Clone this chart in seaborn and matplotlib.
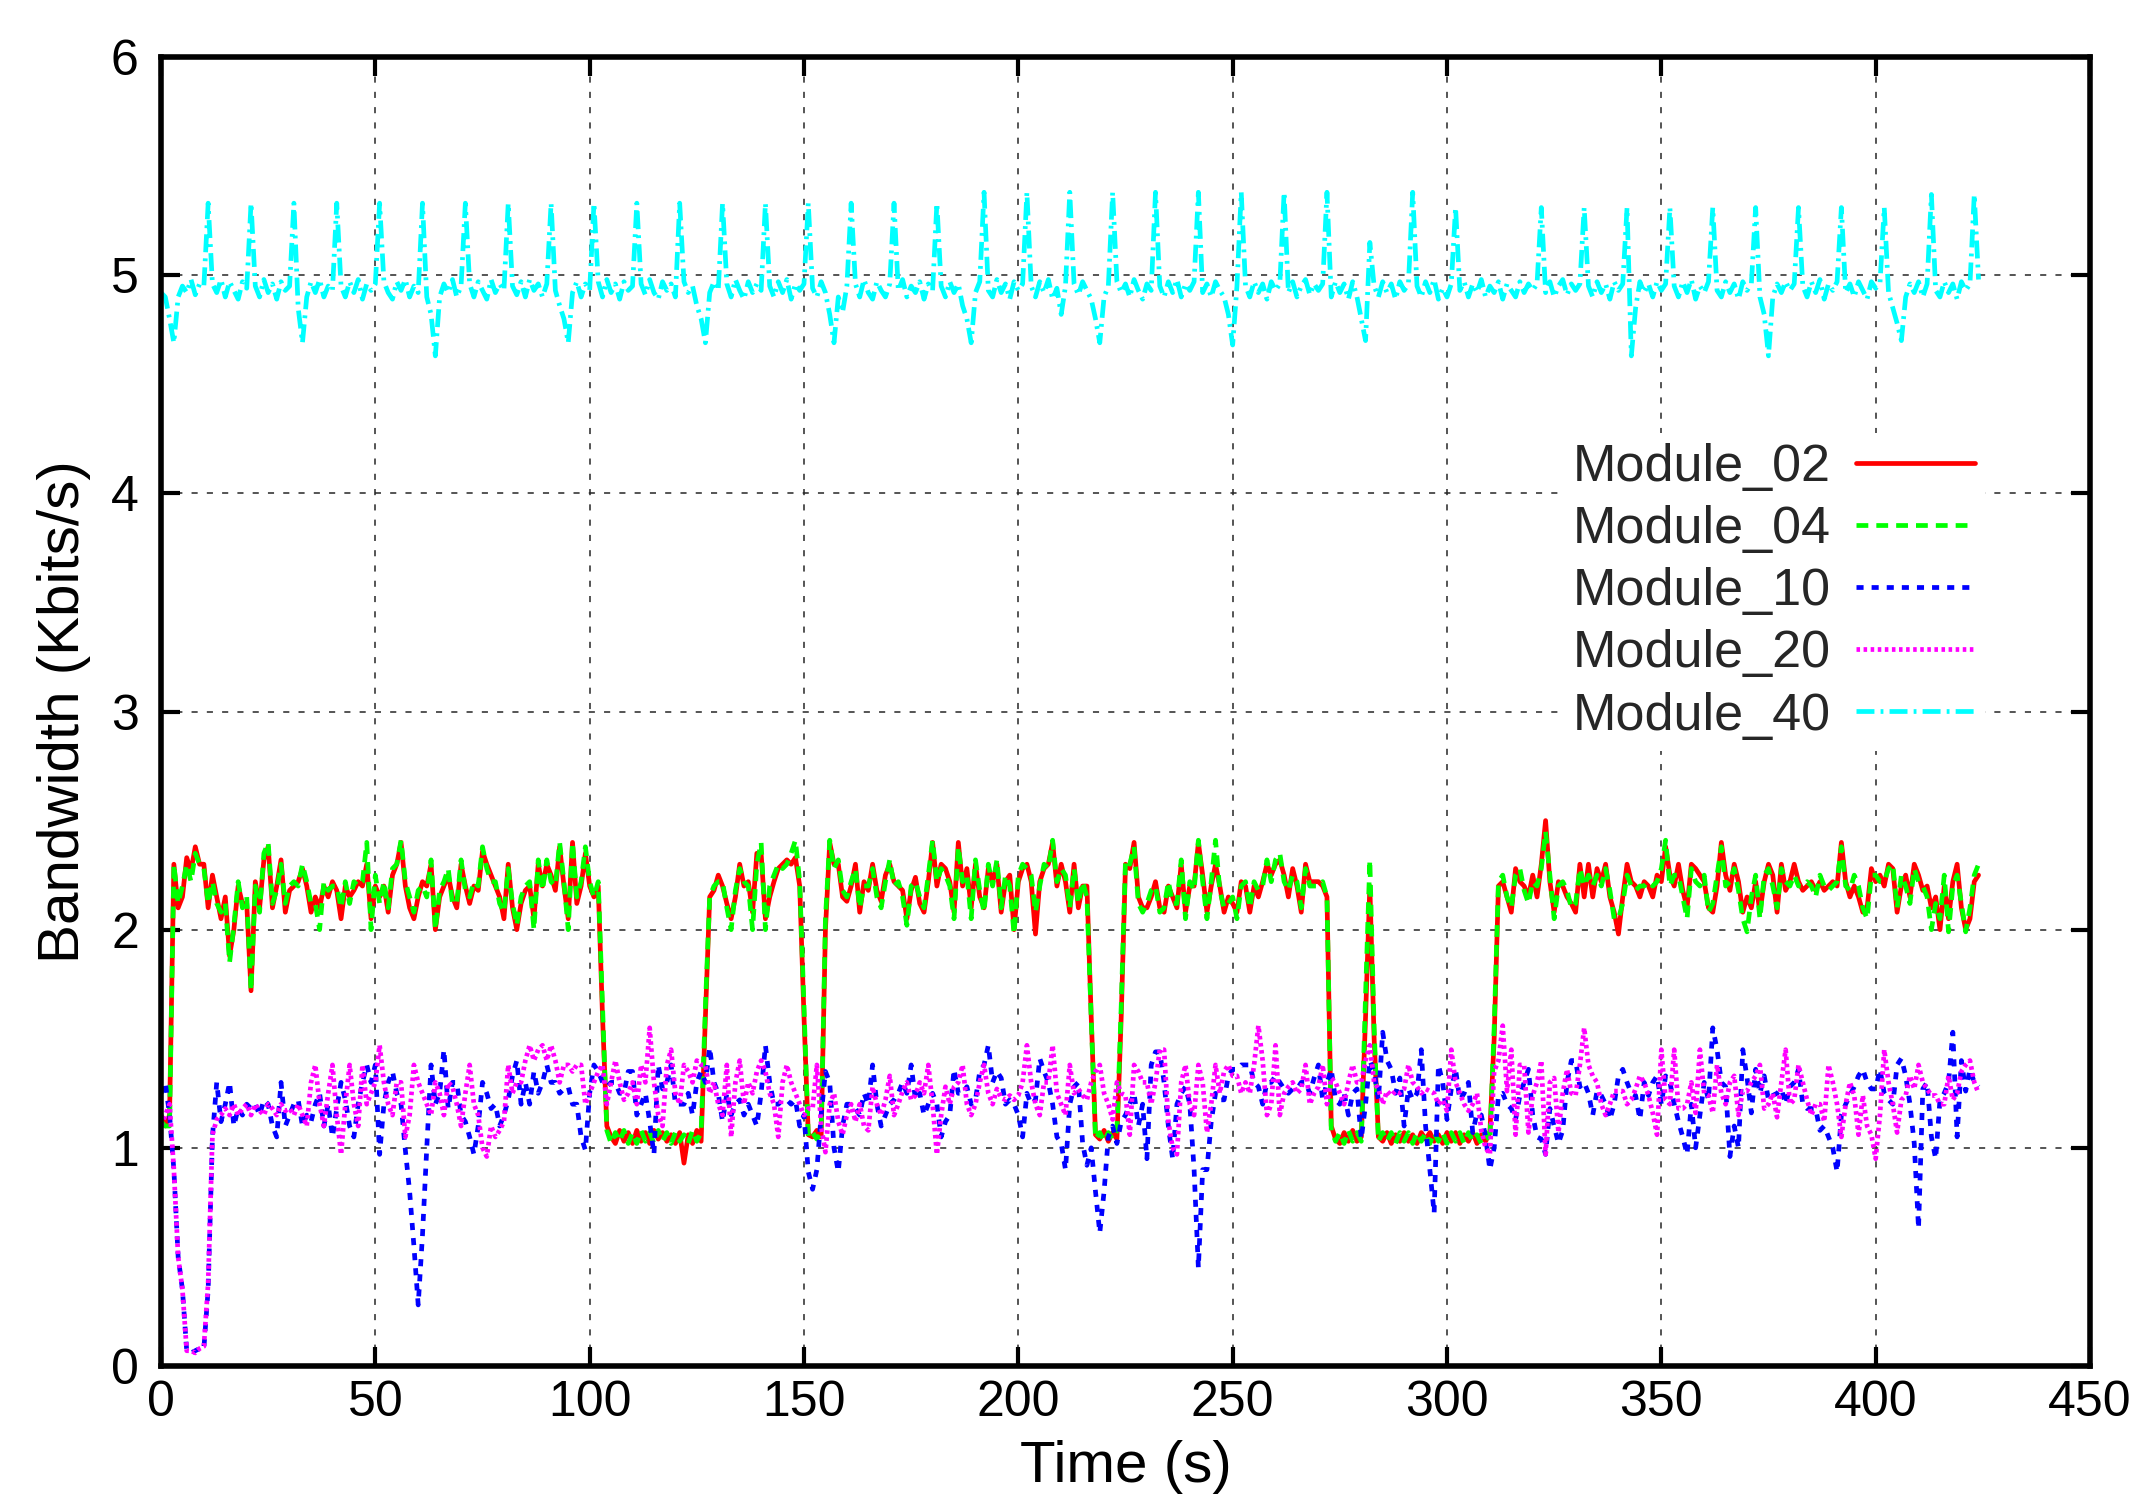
import numpy as np
import pandas as pd
import matplotlib
matplotlib.use("Agg")
import matplotlib.pyplot as plt
import seaborn as sns

modules = ["Module_02", "Module_04", "Module_10", "Module_20", "Module_40"]
colors = ["#ff0000", "#00ff00", "#0000ff", "#ff00ff", "#00ffff"]

# one value per second, t = 0 .. 424
module_02 = [
    1.15, 1.1, 1.15, 2.3, 2.1, 2.15, 2.33, 2.27, 2.38, 2.3,
    2.3, 2.1, 2.25, 2.15, 2.05, 2.15, 1.88, 2.0, 2.2, 2.12,
    2.12, 1.72, 2.22, 2.1, 2.32, 2.38, 2.1, 2.2, 2.32, 2.08,
    2.18, 2.2, 2.22, 2.28, 2.2, 2.08, 2.15, 2.1, 2.2, 2.15,
    2.22, 2.18, 2.05, 2.2, 2.15, 2.18, 2.22, 2.2, 2.3, 2.05,
    2.2, 2.15, 2.2, 2.08, 2.25, 2.3, 2.4, 2.2, 2.1, 2.05,
    2.15, 2.22, 2.2, 2.3, 2.0, 2.15, 2.2, 2.25, 2.15, 2.1,
    2.3, 2.2, 2.12, 2.2, 2.18, 2.36, 2.3, 2.25, 2.2, 2.15,
    2.05, 2.3, 2.1, 2.0, 2.12, 2.18, 2.2, 2.05, 2.3, 2.2,
    2.3, 2.25, 2.18, 2.38, 2.2, 2.05, 2.4, 2.12, 2.2, 2.35,
    2.2, 2.15, 2.2, 1.6, 1.1, 1.05, 1.02, 1.08, 1.03, 1.07,
    1.02, 1.08, 1.03, 1.07, 1.02, 1.08, 1.04, 1.07, 1.03, 1.06,
    1.02, 1.07, 0.93, 1.06, 1.02, 1.08, 1.03, 1.6, 2.15, 2.18,
    2.25, 2.2, 2.12, 2.05, 2.15, 2.3, 2.2, 2.22, 2.08, 2.35,
    2.35, 2.05, 2.15, 2.22, 2.28, 2.3, 2.32, 2.3, 2.33, 2.2,
    1.6, 1.06, 1.05, 1.08, 1.05, 2.0, 2.4, 2.3, 2.3, 2.15,
    2.13, 2.2, 2.3, 2.08, 2.22, 2.18, 2.3, 2.18, 2.13, 2.25,
    2.3, 2.22, 2.2, 2.18, 2.05, 2.18, 2.24, 2.12, 2.08, 2.22,
    2.4, 2.2, 2.3, 2.28, 2.22, 2.08, 2.4, 2.2, 2.28, 2.1,
    2.3, 2.15, 2.1, 2.28, 2.22, 2.3, 2.08, 2.22, 2.25, 2.0,
    2.22, 2.28, 2.3, 2.22, 1.98, 2.22, 2.28, 2.3, 2.4, 2.2,
    2.3, 2.22, 2.08, 2.3, 2.1, 2.2, 2.2, 1.6, 1.06, 1.04,
    1.08, 1.03, 1.07, 1.04, 1.6, 2.3, 2.28, 2.4, 2.15, 2.1,
    2.1, 2.15, 2.22, 2.1, 2.08, 2.2, 2.15, 2.1, 2.3, 2.08,
    2.2, 2.2, 2.4, 2.25, 2.08, 2.2, 2.3, 2.2, 2.08, 2.15,
    2.12, 2.08, 2.22, 2.2, 2.08, 2.2, 2.15, 2.22, 2.3, 2.25,
    2.3, 2.32, 2.25, 2.15, 2.28, 2.2, 2.08, 2.3, 2.22, 2.22,
    2.22, 2.2, 2.15, 1.1, 1.04, 1.02, 1.07, 1.03, 1.08, 1.03,
    1.05, 1.6, 2.2, 1.5, 1.05, 1.03, 1.07, 1.02, 1.06, 1.03,
    1.07, 1.03, 1.06, 1.02, 1.07, 1.04, 1.07, 1.03, 1.06, 1.02,
    1.07, 1.03, 1.07, 1.02, 1.06, 1.03, 1.07, 1.02, 1.06, 1.03,
    1.07, 1.5, 2.2, 2.22, 2.15, 2.08, 2.28, 2.22, 2.2, 2.15,
    2.25, 2.15, 2.3, 2.5, 2.22, 2.08, 2.22, 2.2, 2.15, 2.12,
    2.08, 2.3, 2.15, 2.3, 2.15, 2.28, 2.22, 2.3, 2.15, 2.08,
    1.98, 2.15, 2.3, 2.22, 2.2, 2.15, 2.22, 2.2, 2.15, 2.25,
    2.22, 2.38, 2.25, 2.2, 2.3, 2.18, 2.1, 2.3, 2.28, 2.25,
    2.22, 2.1, 2.08, 2.2, 2.4, 2.25, 2.18, 2.3, 2.22, 2.08,
    2.15, 2.1, 2.22, 2.08, 2.22, 2.3, 2.25, 2.08, 2.3, 2.18,
    2.22, 2.3, 2.22, 2.18, 2.2, 2.22, 2.18, 2.22, 2.18, 2.2,
    2.22, 2.2, 2.4, 2.22, 2.15, 2.2, 2.15, 2.08, 2.1, 2.28,
    2.22, 2.25, 2.2, 2.3, 2.28, 2.08, 2.2, 2.25, 2.15, 2.3,
    2.25, 2.18, 2.2, 2.1, 2.15, 2.0, 2.2, 2.05, 2.22, 2.3,
    2.1, 2.0, 2.05, 2.22, 2.25,
]

module_04 = [
    1.12, 1.1, 1.1, 2.3, 2.12, 2.2, 2.3, 2.22, 2.35, 2.3,
    2.28, 2.12, 2.22, 2.12, 2.08, 2.12, 1.85, 2.02, 2.22, 2.1,
    2.15, 1.72, 2.2, 2.08, 2.35, 2.4, 2.12, 2.18, 2.3, 2.12,
    2.2, 2.22, 2.2, 2.3, 2.22, 2.12, 2.12, 2.0, 2.22, 2.18,
    2.2, 2.2, 2.1, 2.22, 2.12, 2.22, 2.2, 2.22, 2.4, 2.0,
    2.25, 2.12, 2.22, 2.1, 2.28, 2.3, 2.41, 2.22, 2.15, 2.08,
    2.18, 2.2, 2.15, 2.32, 2.0, 2.18, 2.22, 2.28, 2.12, 2.12,
    2.32, 2.18, 2.15, 2.22, 2.2, 2.38, 2.28, 2.22, 2.22, 2.12,
    2.08, 2.28, 2.12, 2.02, 2.15, 2.2, 2.22, 2.0, 2.32, 2.18,
    2.32, 2.22, 2.2, 2.4, 2.22, 2.0, 2.4, 2.15, 2.22, 2.38,
    2.22, 2.15, 2.22, 1.65, 1.08, 1.02, 1.07, 1.03, 1.08, 1.02,
    1.07, 1.02, 1.08, 1.03, 1.07, 1.02, 1.08, 1.03, 1.07, 1.02,
    1.07, 1.03, 1.06, 1.02, 1.08, 1.03, 1.07, 1.65, 2.15, 2.2,
    2.22, 2.22, 2.1, 2.0, 2.18, 2.28, 2.22, 2.2, 2.0, 2.3,
    2.4, 2.0, 2.2, 2.25, 2.3, 2.28, 2.3, 2.35, 2.41, 2.22,
    1.65, 1.05, 1.07, 1.04, 1.07, 2.05, 2.41, 2.28, 2.32, 2.18,
    2.15, 2.22, 2.28, 2.1, 2.2, 2.2, 2.28, 2.15, 2.1, 2.22,
    2.32, 2.2, 2.22, 2.15, 2.02, 2.2, 2.22, 2.15, 2.1, 2.25,
    2.41, 2.22, 2.28, 2.25, 2.2, 2.05, 2.38, 2.22, 2.25, 2.05,
    2.32, 2.18, 2.08, 2.3, 2.2, 2.32, 2.1, 2.25, 2.2, 1.98,
    2.25, 2.3, 2.28, 2.25, 2.08, 2.2, 2.3, 2.28, 2.41, 2.22,
    2.28, 2.25, 2.1, 2.28, 2.12, 2.22, 2.15, 1.6, 1.04, 1.07,
    1.03, 1.07, 1.04, 1.08, 1.65, 2.32, 2.3, 2.38, 2.12, 2.08,
    2.12, 2.18, 2.2, 2.08, 2.1, 2.22, 2.12, 2.12, 2.32, 2.05,
    2.22, 2.18, 2.41, 2.22, 2.05, 2.22, 2.41, 2.18, 2.1, 2.12,
    2.15, 2.05, 2.2, 2.22, 2.1, 2.22, 2.18, 2.2, 2.32, 2.22,
    2.32, 2.35, 2.22, 2.18, 2.25, 2.22, 2.1, 2.28, 2.2, 2.2,
    2.2, 2.22, 2.15, 1.08, 1.03, 1.07, 1.02, 1.08, 1.03, 1.07,
    1.03, 1.7, 2.32, 1.55, 1.03, 1.07, 1.03, 1.07, 1.02, 1.07,
    1.03, 1.07, 1.02, 1.07, 1.03, 1.07, 1.02, 1.07, 1.03, 1.07,
    1.02, 1.07, 1.03, 1.07, 1.02, 1.07, 1.03, 1.06, 1.02, 1.07,
    1.03, 1.55, 2.22, 2.25, 2.15, 2.1, 2.25, 2.28, 2.18, 2.12,
    2.22, 2.2, 2.28, 2.45, 2.25, 2.05, 2.2, 2.22, 2.18, 2.1,
    2.12, 2.28, 2.2, 2.25, 2.2, 2.25, 2.2, 2.28, 2.18, 2.05,
    2.05, 2.12, 2.25, 2.2, 2.18, 2.2, 2.2, 2.22, 2.2, 2.22,
    2.28, 2.41, 2.2, 2.25, 2.25, 2.15, 2.05, 2.28, 2.22, 2.2,
    2.25, 2.08, 2.12, 2.25, 2.38, 2.2, 2.22, 2.28, 2.18, 2.05,
    1.99, 2.15, 2.25, 2.05, 2.25, 2.28, 2.2, 2.1, 2.28, 2.22,
    2.2, 2.25, 2.2, 2.2, 2.22, 2.2, 2.15, 2.25, 2.2, 2.18,
    2.2, 2.22, 2.38, 2.2, 2.18, 2.25, 2.2, 2.1, 2.05, 2.25,
    2.25, 2.22, 2.22, 2.28, 2.3, 2.1, 2.25, 2.2, 2.12, 2.28,
    2.22, 2.2, 2.15, 2.0, 2.12, 2.05, 2.25, 1.99, 2.2, 2.25,
    2.12, 1.99, 2.1, 2.25, 2.3,
]

module_10 = [
    1.25, 1.3, 1.15, 0.9, 0.5, 0.35, 0.07, 0.06, 0.07, 0.08,
    0.08, 0.35, 1.05, 1.3, 1.12, 1.2, 1.3, 1.1, 1.18, 1.15,
    1.2, 1.18, 1.2, 1.15, 1.22, 1.2, 1.1, 1.05, 1.3, 1.1,
    1.15, 1.2, 1.22, 1.1, 1.15, 1.12, 1.2, 1.25, 1.1, 1.2,
    1.05, 1.18, 1.3, 1.22, 1.1, 1.05, 1.2, 1.3, 1.38, 1.3,
    1.38, 0.97, 1.2, 1.3, 1.35, 1.25, 1.2, 0.99, 0.8, 0.55,
    0.28, 0.6, 1.0, 1.38, 1.2, 1.25, 1.45, 1.18, 1.3, 1.3,
    1.15, 1.12, 1.05, 0.97, 1.1, 1.3, 1.25, 1.18, 1.2, 1.1,
    1.15, 1.22, 1.33, 1.4, 1.2, 1.3, 1.2, 1.35, 1.25, 1.3,
    1.38, 1.3, 1.3, 1.25, 1.27, 1.28, 1.2, 1.2, 1.05, 0.99,
    1.25, 1.38, 1.35, 1.3, 1.28, 1.3, 1.3, 1.25, 1.25, 1.35,
    1.35, 1.15, 1.2, 1.25, 1.12, 0.97, 1.38, 1.27, 1.3, 1.38,
    1.2, 1.2, 1.2, 1.25, 1.15, 1.3, 1.35, 1.3, 1.46, 1.3,
    1.25, 1.12, 1.25, 1.15, 1.2, 1.22, 1.15, 1.2, 1.15, 1.1,
    1.25, 1.47, 1.3, 1.2, 1.2, 1.22, 1.22, 1.2, 1.22, 1.1,
    1.15, 0.89, 0.81, 0.9, 1.15, 1.35, 1.3, 1.0, 0.89, 1.1,
    1.2, 1.2, 1.18, 1.15, 1.25, 1.2, 1.38, 1.2, 1.1, 1.15,
    1.2, 1.22, 1.25, 1.3, 1.25, 1.38, 1.22, 1.25, 1.15, 1.2,
    1.25, 1.2, 1.05, 1.12, 1.15, 1.36, 1.25, 1.25, 1.28, 1.2,
    1.22, 1.35, 1.38, 1.47, 1.3, 1.35, 1.32, 1.2, 1.22, 1.2,
    1.15, 1.05, 1.25, 1.2, 1.22, 1.41, 1.35, 1.3, 1.2, 1.05,
    1.02, 0.9, 1.2, 1.28, 1.3, 1.02, 0.92, 1.0, 0.8, 0.61,
    0.8, 1.05, 1.1, 1.02, 1.12, 1.15, 1.2, 1.25, 1.1, 1.2,
    0.95, 1.38, 1.44, 1.44, 1.3, 1.1, 0.95, 1.2, 1.25, 1.28,
    1.2, 0.9, 0.45, 0.9, 0.9, 1.12, 1.25, 1.22, 1.22, 1.33,
    1.36, 1.36, 1.38, 1.38, 1.38, 1.3, 1.28, 1.2, 1.3, 1.3,
    1.33, 1.3, 1.27, 1.25, 1.27, 1.27, 1.3, 1.3, 1.25, 1.32,
    1.38, 1.22, 1.3, 1.36, 1.22, 1.2, 1.25, 1.15, 1.25, 1.27,
    1.04, 1.2, 1.4, 1.35, 1.22, 1.53, 1.4, 1.36, 1.25, 1.32,
    1.1, 1.27, 1.22, 1.25, 1.45, 1.1, 0.9, 0.7, 1.38, 1.3,
    1.13, 1.27, 1.36, 1.22, 1.25, 1.3, 1.07, 1.16, 1.15, 1.05,
    0.9, 1.0, 1.24, 1.25, 1.2, 1.18, 1.13, 1.24, 1.3, 1.36,
    1.15, 1.05, 1.04, 0.97, 1.18, 1.1, 1.02, 1.08, 1.3, 1.4,
    1.4, 1.28, 1.3, 1.25, 1.15, 1.26, 1.24, 1.2, 1.13, 1.2,
    1.33, 1.36, 1.3, 1.25, 1.24, 1.13, 1.3, 1.24, 1.3, 1.33,
    1.2, 1.33, 1.3, 1.2, 1.12, 1.05, 0.97, 1.2, 1.0, 1.15,
    1.3, 1.22, 1.55, 1.45, 1.3, 1.28, 0.96, 1.1, 1.0, 1.45,
    1.32, 1.16, 1.36, 1.25, 1.33, 1.22, 1.24, 1.25, 1.27, 1.2,
    1.28, 1.3, 1.36, 1.2, 1.18, 1.18, 1.18, 1.08, 1.1, 1.05,
    1.0, 0.89, 1.15, 1.2, 1.24, 1.28, 1.33, 1.36, 1.3, 1.27,
    1.27, 1.36, 1.25, 1.22, 1.2, 1.38, 1.41, 1.33, 1.2, 1.02,
    0.63, 1.27, 1.3, 1.05, 0.95, 1.22, 1.25, 1.3, 1.53, 1.05,
    1.4, 1.26, 1.36, 1.3, 1.28,
]

module_20 = [
    1.1, 1.15, 1.2, 0.9, 0.5, 0.35, 0.07, 0.07, 0.06, 0.08,
    0.09, 0.38, 1.06, 1.13, 1.15, 1.18, 1.15, 1.2, 1.15, 1.18,
    1.2, 1.15, 1.2, 1.17, 1.15, 1.2, 1.18, 1.15, 1.2, 1.17,
    1.18, 1.15, 1.2, 1.15, 1.1, 1.3, 1.38, 1.2, 1.1, 1.25,
    1.38, 1.15, 0.97, 1.2, 1.38, 1.2, 1.1, 1.38, 1.2, 1.25,
    1.3, 1.47, 1.3, 1.2, 1.15, 1.3, 1.3, 1.05, 1.15, 1.38,
    1.3, 1.25, 1.2, 1.15, 1.3, 1.25, 1.15, 1.3, 1.28, 1.2,
    1.1, 1.25, 1.38, 1.2, 1.15, 1.0, 0.96, 1.1, 1.05, 1.08,
    1.12, 1.38, 1.25, 1.3, 1.3, 1.4, 1.47, 1.4, 1.45, 1.47,
    1.4, 1.47, 1.4, 1.3, 1.38, 1.38, 1.35, 1.38, 1.38, 1.2,
    1.25, 1.3, 1.35, 1.38, 1.2, 1.3, 1.4, 1.3, 1.22, 1.25,
    1.3, 1.2, 1.38, 1.3, 1.55, 1.3, 1.15, 1.1, 1.38, 1.45,
    1.25, 1.2, 1.38, 1.35, 1.3, 1.4, 1.38, 1.38, 1.25, 1.3,
    1.2, 1.15, 1.38, 1.05, 1.3, 1.4, 1.2, 1.3, 1.25, 1.35,
    1.4, 1.35, 1.25, 1.2, 1.05, 1.3, 1.38, 1.3, 1.25, 1.2,
    1.15, 1.18, 1.18, 1.38, 1.1, 0.98, 1.2, 1.25, 1.12, 1.06,
    1.15, 1.2, 1.12, 1.2, 1.1, 1.08, 1.28, 1.2, 1.15, 1.22,
    1.33, 1.15, 1.2, 1.26, 1.3, 1.22, 1.24, 1.3, 1.25, 1.38,
    1.2, 0.97, 1.15, 1.28, 1.2, 1.28, 1.3, 1.38, 1.2, 1.15,
    1.2, 1.3, 1.38, 1.25, 1.2, 1.27, 1.23, 1.22, 1.24, 1.22,
    1.24, 1.3, 1.47, 1.3, 1.2, 1.15, 1.3, 1.3, 1.47, 1.25,
    1.2, 1.15, 1.38, 1.25, 1.27, 1.24, 1.22, 1.3, 1.35, 1.38,
    1.25, 1.2, 1.13, 1.3, 1.25, 1.24, 1.06, 1.38, 1.35, 1.3,
    1.3, 1.2, 1.3, 1.45, 1.45, 1.12, 1.0, 0.97, 1.3, 1.38,
    1.2, 1.15, 1.38, 1.3, 1.07, 1.2, 1.38, 1.25, 1.35, 1.38,
    1.33, 1.33, 1.25, 1.3, 1.25, 1.38, 1.56, 1.4, 1.15, 1.2,
    1.47, 1.15, 1.25, 1.28, 1.3, 1.25, 1.27, 1.38, 1.2, 1.25,
    1.28, 1.38, 1.2, 1.32, 1.3, 1.25, 1.2, 1.3, 1.38, 1.3,
    1.3, 1.4, 1.47, 1.3, 1.27, 1.2, 1.26, 1.24, 1.26, 1.25,
    1.27, 1.38, 1.3, 1.28, 1.25, 1.27, 1.26, 1.25, 1.2, 1.22,
    1.17, 1.45, 1.3, 1.25, 1.2, 1.17, 1.2, 1.25, 1.08, 1.0,
    0.97, 1.35, 1.4, 1.56, 1.26, 1.45, 1.06, 1.38, 1.38, 1.07,
    1.24, 1.3, 1.4, 0.97, 1.3, 1.32, 1.07, 1.25, 1.36, 1.25,
    1.24, 1.38, 1.55, 1.38, 1.33, 1.3, 1.2, 1.15, 1.2, 1.26,
    1.26, 1.26, 1.2, 1.22, 1.27, 1.33, 1.3, 1.24, 1.16, 1.06,
    1.45, 1.22, 1.2, 1.45, 1.18, 1.18, 1.2, 1.3, 1.16, 1.45,
    1.25, 1.24, 1.16, 1.38, 1.25, 1.2, 1.3, 1.33, 1.15, 1.26,
    1.26, 1.3, 1.33, 1.38, 1.18, 1.2, 1.25, 1.14, 1.3, 1.45,
    1.2, 1.22, 1.38, 1.3, 1.22, 1.15, 1.2, 1.2, 1.12, 1.38,
    1.3, 1.2, 1.05, 1.2, 1.3, 1.24, 1.06, 1.24, 1.1, 1.06,
    0.95, 1.15, 1.45, 1.3, 1.2, 1.07, 1.22, 1.24, 1.33, 1.27,
    1.38, 1.3, 1.27, 1.24, 1.24, 1.2, 1.2, 1.33, 1.22, 1.25,
    1.35, 1.38, 1.4, 1.3, 1.25,
]

module_40 = [
    4.92, 4.9, 4.8, 4.69, 4.9, 4.95, 4.92, 4.98, 4.91, 4.96,
    4.95, 5.33, 4.96, 4.92, 4.98, 4.9, 4.97, 4.93, 4.89, 4.97,
    4.94, 5.33, 4.95, 4.9, 4.98, 4.92, 4.96, 4.89, 4.97, 4.93,
    4.95, 5.33, 4.85, 4.69, 4.9, 4.97, 4.92, 4.98, 4.9, 4.95,
    4.93, 5.33, 4.95, 4.9, 4.97, 4.92, 4.98, 4.89, 4.96, 4.93,
    4.96, 5.33, 4.97, 4.92, 4.89, 4.97, 4.93, 4.98, 4.9, 4.95,
    4.92, 5.33, 4.9, 4.82, 4.63, 4.9, 4.96, 4.92, 4.98, 4.9,
    4.95, 5.33, 4.96, 4.9, 4.97, 4.93, 4.89, 4.98, 4.92, 4.96,
    4.93, 5.33, 4.95, 4.91, 4.97, 4.9, 4.98, 4.93, 4.96, 4.9,
    4.96, 5.33, 4.93, 4.86, 4.8, 4.69, 4.92, 4.97, 4.9, 4.96,
    4.93, 5.33, 4.97, 4.9, 4.98, 4.92, 4.96, 4.89, 4.97, 4.93,
    4.95, 5.33, 4.96, 4.91, 4.98, 4.92, 4.89, 4.97, 4.93, 4.96,
    4.9, 5.33, 4.97, 4.92, 4.95, 4.86, 4.8, 4.69, 4.92, 4.97,
    4.93, 5.33, 4.96, 4.9, 4.98, 4.93, 4.89, 4.97, 4.92, 4.96,
    4.93, 5.33, 4.95, 4.9, 4.97, 4.92, 4.98, 4.89, 4.96, 4.93,
    4.96, 5.33, 4.94, 4.9, 4.97, 4.92, 4.82, 4.69, 4.9, 4.83,
    4.95, 5.33, 4.96, 4.9, 4.98, 4.92, 4.89, 4.97, 4.93, 4.9,
    4.96, 5.33, 4.93, 4.98, 4.9, 4.95, 4.92, 4.97, 4.89, 4.96,
    4.93, 5.33, 4.95, 4.9, 4.97, 4.92, 4.96, 4.86, 4.8, 4.69,
    4.92, 4.97, 5.38, 4.93, 4.9, 4.98, 4.92, 4.96, 4.89, 4.97,
    4.93, 4.96, 5.38, 4.95, 4.9, 4.97, 4.92, 4.98, 4.89, 4.94,
    4.82, 4.95, 5.38, 4.96, 4.91, 4.97, 4.93, 4.89, 4.8, 4.69,
    4.9, 4.95, 5.38, 4.97, 4.92, 4.96, 4.9, 4.98, 4.93, 4.89,
    4.96, 4.93, 5.38, 4.95, 4.9, 4.97, 4.92, 4.98, 4.9, 4.96,
    4.93, 4.97, 5.38, 4.92, 4.96, 4.9, 4.97, 4.93, 4.9, 4.82,
    4.68, 4.95, 5.38, 4.95, 4.9, 4.97, 4.92, 4.96, 4.89, 4.97,
    4.93, 4.96, 5.38, 4.92, 4.97, 4.9, 4.95, 4.98, 4.91, 4.96,
    4.93, 4.96, 5.38, 4.9, 4.97, 4.92, 4.96, 4.89, 4.97, 4.9,
    4.8, 4.7, 5.15, 4.95, 4.9, 4.97, 4.92, 4.96, 4.89, 4.97,
    4.93, 4.96, 5.38, 4.95, 4.9, 4.97, 4.92, 4.98, 4.89, 4.94,
    4.9, 4.96, 5.31, 4.93, 4.97, 4.9, 4.96, 4.92, 4.98, 4.9,
    4.95, 4.92, 4.97, 4.89, 4.96, 4.93, 4.9, 4.97, 4.92, 4.96,
    4.93, 4.96, 5.31, 4.92, 4.97, 4.9, 4.95, 4.98, 4.91, 4.96,
    4.93, 4.96, 5.31, 4.95, 4.9, 4.97, 4.92, 4.96, 4.89, 4.97,
    4.93, 4.96, 5.31, 4.63, 4.85, 4.97, 4.92, 4.96, 4.9, 4.97,
    4.93, 4.96, 5.31, 4.95, 4.9, 4.97, 4.92, 4.98, 4.89, 4.95,
    4.92, 4.97, 5.31, 4.93, 4.9, 4.97, 4.92, 4.96, 4.89, 4.97,
    4.93, 4.96, 5.31, 4.9, 4.82, 4.63, 4.9, 4.96, 4.92, 4.97,
    4.93, 4.96, 5.31, 4.95, 4.9, 4.97, 4.92, 4.98, 4.89, 4.96,
    4.93, 4.97, 5.31, 4.92, 4.96, 4.9, 4.97, 4.93, 4.89, 4.97,
    4.94, 4.96, 5.31, 4.92, 4.85, 4.78, 4.7, 4.9, 4.96, 4.92,
    4.97, 4.9, 4.96, 5.37, 4.93, 4.9, 4.97, 4.92, 4.96, 4.89,
    4.97, 4.93, 4.96, 5.37, 4.98,
]

x_ticks = [0, 50, 100, 150, 200, 250, 300, 350, 400, 450]
y_ticks = [0, 1, 2, 3, 4, 5, 6]

# long-form table for seaborn
series = [module_02, module_04, module_10, module_20, module_40]
frames = []
for name, vals in zip(modules, series):
    frames.append(pd.DataFrame({"Time": np.arange(len(vals)),
                                "Bandwidth": vals,
                                "Module": name}))
df = pd.concat(frames, ignore_index=True)

sns.set_theme(style="ticks")
plt.rcParams["font.family"] = ["Liberation Sans", "DejaVu Sans"]

W, H = 2136, 1511
fig = plt.figure(figsize=(W / 100, H / 100), dpi=100)
ax = fig.add_axes([161 / W, 1 - 1366 / H, (2090 - 161) / W, (1366 - 57) / H])

dash_map = {
    "Module_02": "",
    "Module_04": (2.5, 1.7),
    "Module_10": (1.5, 1.7),
    "Module_20": (0.75, 0.75),
    "Module_40": (3.8, 1.3, 0.6, 1.3),
}

sns.lineplot(data=df, x="Time", y="Bandwidth", hue="Module", style="Module",
             hue_order=modules, style_order=modules,
             palette=dict(zip(modules, colors)), dashes=dash_map,
             linewidth=3.4, estimator=None, errorbar=None, legend=False, ax=ax)

ax.set_xlim(0, 450)
ax.set_ylim(0, 6)
ax.set_xticks(x_ticks)
ax.set_yticks(y_ticks)
ax.grid(True, color="0.15", linestyle=(0, (4, 6)), linewidth=1.1)
ax.set_axisbelow(True)

ax.tick_params(direction="in", length=14, width=3, top=True, right=True,
               labelsize=36, colors="black")
ax.tick_params(axis="x", pad=10)
ax.tick_params(axis="y", pad=16)
for sp in ax.spines.values():
    sp.set_visible(True)
    sp.set_linewidth(4)
    sp.set_color("black")

ax.set_xlabel("Time (s)", fontsize=42, labelpad=10, color="black")
ax.set_ylabel("Bandwidth (Kbits/s)", fontsize=42, labelpad=14, color="black")

leg = ax.legend(handles=ax.lines[:5], labels=modules, loc="upper right",
                bbox_to_anchor=(1985 / W, 1 - 433 / H),
                bbox_transform=fig.transFigure, markerfirst=False,
                fontsize=37.5, handlelength=2.27, handletextpad=0.5,
                labelspacing=0.25, borderpad=0.2, borderaxespad=0,
                frameon=True, fancybox=False, framealpha=1,
                facecolor="white", edgecolor="white")
leg.get_frame().set_linewidth(0)

fig.savefig("out.png", dpi=100)
